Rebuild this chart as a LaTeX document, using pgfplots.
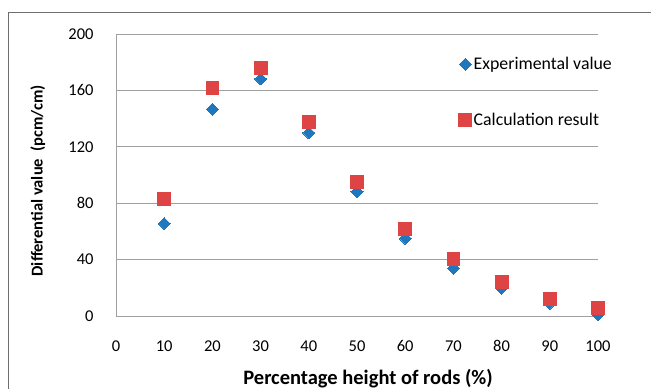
\documentclass[border=0pt]{standalone}
\usepackage{fontspec}
\setmainfont{Carlito}
\usepackage{pgfplots}
\pgfplotsset{compat=1.18}
\definecolor{expblue}{RGB}{31,119,189}
\definecolor{calcred}{RGB}{222,68,68}
\definecolor{gridgray}{RGB}{160,160,160}
\definecolor{framegray}{RGB}{110,110,110}
\begin{document}
\begin{tikzpicture}[x=1bp,y=1bp]
\useasboundingbox (0,0) rectangle (651,389);
\draw[framegray, line width=0.9bp] (8,0) -- (8,377) -- (651,377);
\begin{axis}[
  at={(116bp,73bp)}, anchor=south west,
  scale only axis, width=482bp, height=282bp,
  xmin=0, xmax=100, ymin=0, ymax=200,
  xtick={0,10,...,100}, ytick={0,40,...,200},
  axis x line*=bottom, axis y line*=left,
  axis line style={gridgray, line width=0.9bp, -},
  ymajorgrids, major grid style={gridgray, line width=0.9bp},
  major tick length=0pt,
  clip=false,
  /pgf/number format/assume math mode=true,
  tick label style={font=\fontsize{16.5bp}{19bp}\selectfont, text=black},
  yticklabel style={xshift=-19bp},
  xticklabel style={yshift=-21bp},
  xlabel={Percentage height of rods (\%)},
  ylabel={Differential value\ \ (pcm/cm)},
  xlabel style={font=\bfseries\fontsize{20.5bp}{23bp}\selectfont, at={(axis description cs:0.523,-0.2234)}, anchor=center},
  ylabel style={font=\bfseries\fontsize{16.5bp}{19bp}\selectfont, at={(axis description cs:-0.162,0.48)}, anchor=center},
  legend style={at={(rel axis cs:0.711,0.925)}, anchor=north west, draw=none, fill=none,
    font=\fontsize{17.8bp}{20bp}\selectfont, row sep=38bp, inner sep=0pt},
  legend cell align=left,
  legend image code/.code={\draw[#1] plot coordinates {(6bp,0bp)};},
]
\addplot[only marks, mark=square*, mark size=4.25bp, mark options={rotate=45, fill=expblue, draw=expblue, line width=0pt}]
  coordinates {(10,65.5) (20,146.6) (30,168.1) (40,129.8) (50,88.2) (60,55.1) (70,33.8) (80,19.6) (90,9.0) (100,0.8)};
\addlegendentry{Experimental value}
\addplot[only marks, mark=square*, mark size=6.4bp, mark options={fill=calcred, draw=calcred, line width=0pt}]
  coordinates {(10,83) (20,161.7) (30,175.7) (40,137.6) (50,94.8) (60,61.9) (70,40.2) (80,23.9) (90,12.1) (100,5.7)};
\addlegendentry{Calculation result}
\end{axis}
\end{tikzpicture}
\end{document}
